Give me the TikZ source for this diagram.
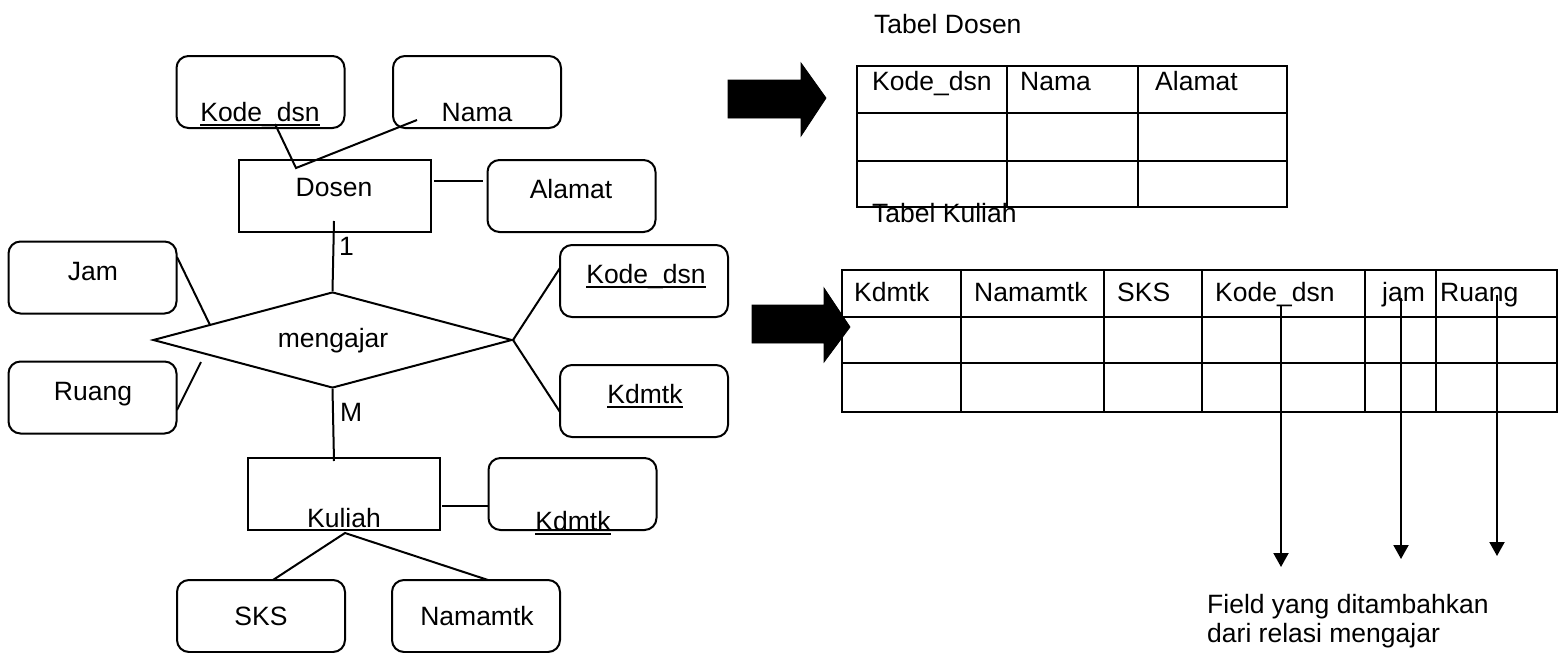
\documentclass[tikz,border=0pt]{standalone}
\usepackage{fontspec}
\setmainfont{Liberation Sans}
\usetikzlibrary{shapes.geometric,arrows.meta}
\newsavebox\undlbox
\newcommand{\undl}[1]{\sbox\undlbox{#1}\rlap{\rule[-4.5pt]{\wd\undlbox}{1.8pt}}\usebox\undlbox}
\newcommand{\dfont}{\fontsize{26.5}{31}\selectfont}
\tikzset{
  ln/.style={line width=2pt, line join=miter},
  attr/.style={draw, ln, rounded corners=12pt, inner sep=0pt, minimum width=168pt, minimum height=72pt},
  ent/.style={draw, ln, rectangle, inner sep=0pt, minimum width=192pt, minimum height=72pt},
  rel/.style={draw, ln, diamond, inner sep=0pt, minimum width=359pt, minimum height=96pt},
  txt/.style={font=\dfont, anchor=base, inner sep=0pt},
  txtl/.style={font=\dfont, anchor=base west, inner sep=0pt},
  blk/.style={fill=black, draw=black, line width=0.8pt},
  tab/.style={ln},
  dn/.style={ln, -{Triangle[width=15pt,length=14pt]}}
}
\begin{document}
\begin{tikzpicture}[x=1pt,y=-1pt]
\useasboundingbox (0,0) rectangle (1559,653);

% ---------------- ER diagram ----------------
\node[attr] (kd1) at (260.5,92) {};
\node[txt] (kd1t) at (260,121) {\undl{Kode\_dsn}};
\node[attr] (nama) at (477,92) {};
\node[txt] (namat) at (477,121) {Nama};
\node[ent] (dosen) at (334.5,196) {};
\node[txt] (dosent) at (334,196) {Dosen};
\node[attr] (alamat) at (571.5,196) {};
\node[txt] (alamatt) at (571,198) {Alamat};

\node[attr] (jam) at (92.5,277.5) {};
\node[txt] (jamt) at (93,280) {Jam};
\node[attr] (ruang) at (92.5,397.5) {};
\node[txt] (ruangt) at (93,400) {Ruang};

\node[rel] (mengajar) at (332.5,340) {};
\node[txt] (mengajart) at (333,347) {mengajar};

\node[attr] (kd2) at (644,281) {};
\node[txt] (kd2t) at (646,283) {\undl{Kode\_dsn}};
\node[attr] (kdm2) at (644,401) {};
\node[txt] (kdm2t) at (645,403) {\undl{Kdmtk}};

\node[ent] (kuliah) at (344,493.5) {};
\node[txt] (kuliaht) at (344,527) {Kuliah};
\node[attr] (kdm3) at (572.5,494) {};
\node[txt] (kdm3t) at (573,530) {\undl{Kdmtk}};

\node[attr] (sks) at (261,616) {};
\node[txt] (skst) at (261,625) {SKS};
\node[attr] (namamtk) at (476,616) {};
\node[txt] (namamtkt) at (477,625) {Namamtk};

\node[txtl] (one) at (339,255) {1};
\node[txtl] (many) at (340,421) {M};

% connector end points
\coordinate (kdA) at (275,124);
\coordinate (dj) at (296,168);
\coordinate (nmA) at (417,120);
\coordinate (dsA) at (434,181);
\coordinate (alA) at (483,181);
\coordinate (dsB) at (334,221);
\coordinate (jmA) at (177,257);
\coordinate (jmB) at (210,325);
\coordinate (rgA) at (201,362);
\coordinate (rgB) at (177,410);
\coordinate (k2A) at (560,268);
\coordinate (m2A) at (560,412);
\coordinate (kuA) at (334,461);
\coordinate (kuB) at (442,506);
\coordinate (k3A) at (488,506);
\coordinate (kuC) at (345,533);
\coordinate (skA) at (273,580);
\coordinate (nmB) at (488,580);

\draw[ln] (kdA) -- (dj) -- (nmA);
\draw[ln] (dsA) -- (alA);
\draw[ln] (dsB) -- (mengajar.north);
\draw[ln] (jmA) -- (jmB);
\draw[ln] (rgA) -- (rgB);
\draw[ln] (mengajar.east) -- (k2A);
\draw[ln] (mengajar.east) -- (m2A);
\draw[ln] (mengajar.south) -- (kuA);
\draw[ln] (kuB) -- (k3A);
\draw[ln] (skA) -- (kuC) -- (nmB);

% ---------------- block arrows ----------------
\fill[blk] (728,80) -- (801,80) -- (801,63) -- (826,98) -- (801,136) -- (801,118) -- (728,118) -- cycle;
\fill[blk] (752,305) -- (824,305) -- (824,288) -- (850,327) -- (824,362) -- (824,343) -- (752,343) -- cycle;

% ---------------- Tabel Dosen ----------------
\node[txtl] (tdosen) at (874,33) {Tabel Dosen};
\draw[tab] (857,66) rectangle (1287,207);
\draw[tab] (857,113) -- (1287,113);
\draw[tab] (857,161) -- (1287,161);
\draw[tab] (1007,66) -- (1007,207);
\draw[tab] (1138,66) -- (1138,207);
\node[txtl] (hd1) at (872,90) {Kode\_dsn};
\node[txtl] (hd2) at (1020,90) {Nama};
\node[txtl] (hd3) at (1155,90) {Alamat};

% ---------------- Tabel Kuliah ----------------
\node[txtl] (tkuliah) at (872,222) {Tabel Kuliah};
\draw[tab] (842,270) rectangle (1557,412);
\draw[tab] (842,317) -- (1557,317);
\draw[tab] (842,363) -- (1557,363);
\foreach \cx in {961,1104,1202,1365,1436} \draw[tab] (\cx,270) -- (\cx,412);
\node[txtl] (hk1) at (854,301) {Kdmtk};
\node[txtl] (hk2) at (974,301) {Namamtk};
\node[txtl] (hk3) at (1117,301) {SKS};
\node[txtl] (hk4) at (1215,301) {Kode\_dsn};
\node[txtl] (hk5) at (1382,301) {jam};
\node[txtl] (hk6) at (1440,301) {Ruang};

% ---------------- down arrows ----------------
\coordinate (a1s) at (1281,305);
\coordinate (a1e) at (1281,567);
\coordinate (a2s) at (1401,298);
\coordinate (a2e) at (1401,559);
\coordinate (a3s) at (1497,295);
\coordinate (a3e) at (1497,556);
\draw[dn] (a1s) -- (a1e);
\draw[dn] (a2s) -- (a2e);
\draw[dn] (a3s) -- (a3e);

\node[txtl] (note1) at (1207,613) {Field yang ditambahkan};
\node[txtl] (note2) at (1207,642) {dari relasi mengajar};
\end{tikzpicture}
\end{document}
